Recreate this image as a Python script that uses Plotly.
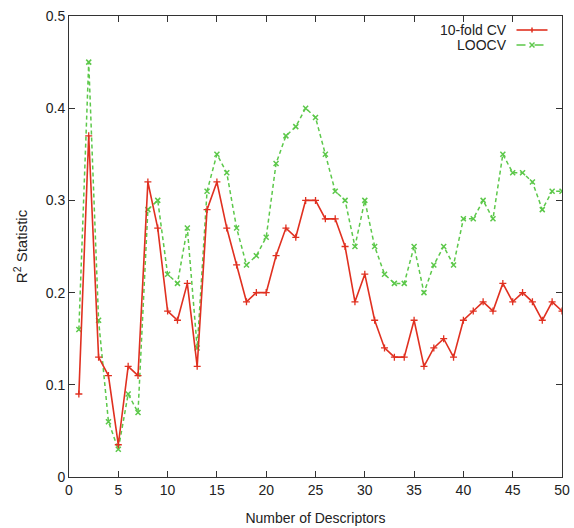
import plotly.graph_objects as go

x_vals = list(range(1, 51))
cv10 = [0.09, 0.37, 0.13, 0.11, 0.035, 0.12, 0.11, 0.32, 0.27, 0.18,
        0.17, 0.21, 0.12, 0.29, 0.32, 0.27, 0.23, 0.19, 0.20, 0.20,
        0.24, 0.27, 0.26, 0.30, 0.30, 0.28, 0.28, 0.25, 0.19, 0.22,
        0.17, 0.14, 0.13, 0.13, 0.17, 0.12, 0.14, 0.15, 0.13, 0.17,
        0.18, 0.19, 0.18, 0.21, 0.19, 0.20, 0.19, 0.17, 0.19, 0.18]
loocv = [0.16, 0.45, 0.17, 0.06, 0.03, 0.09, 0.07, 0.29, 0.30, 0.22,
         0.21, 0.27, 0.14, 0.31, 0.35, 0.33, 0.27, 0.23, 0.24, 0.26,
         0.34, 0.37, 0.38, 0.40, 0.39, 0.35, 0.31, 0.30, 0.25, 0.30,
         0.25, 0.22, 0.21, 0.21, 0.25, 0.20, 0.23, 0.25, 0.23, 0.28,
         0.28, 0.30, 0.28, 0.35, 0.33, 0.33, 0.32, 0.29, 0.31, 0.31]
series_names = ["10-fold CV", "LOOCV"]
x_ticks = [0, 5, 10, 15, 20, 25, 30, 35, 40, 45, 50]
y_ticks = [0, 0.1, 0.2, 0.3, 0.4, 0.5]

RED = "#e03020"
GREEN = "#5cc84a"
FONT = "Liberation Sans, Arial, sans-serif"

fig = go.Figure()
fig.add_trace(go.Scatter(x=x_vals, y=loocv, mode="lines+markers", name=series_names[1],
                         line=dict(color=GREEN, width=1.5, dash="4px,3px"),
                         marker=dict(symbol="x-thin", size=5, color=GREEN,
                                     line=dict(color=GREEN, width=1.5))))
fig.add_trace(go.Scatter(x=x_vals, y=cv10, mode="lines+markers", name=series_names[0],
                         line=dict(color=RED, width=1.6),
                         marker=dict(symbol="cross-thin", size=5, color=RED,
                                     line=dict(color=RED, width=1.3))))

axis_common = dict(showgrid=False, zeroline=False, showline=True, mirror="ticks",
                   linecolor="#333333", linewidth=1, ticks="inside", ticklen=6,
                   tickcolor="#333333", automargin=False,
                   tickfont=dict(family=FONT, size=14, color="#222222"))
fig.update_xaxes(range=[0, 50], tickvals=x_ticks, ticktext=[str(v) for v in x_ticks],
                 title=dict(text="Number of Descriptors", font=dict(family=FONT, size=14, color="#222222"),
                            standoff=16),
                 **axis_common)
fig.update_yaxes(range=[0, 0.5], tickvals=y_ticks, ticktext=["0", "0.1", "0.2", "0.3", "0.4", "0.5"],
                 title=dict(text="R<sup>2</sup> Statistic", font=dict(family=FONT, size=15, color="#222222"),
                            standoff=14),
                 **axis_common)

# gnuplot-style legend: text right-aligned, sample to the right
legend_rows = [(series_names[0], RED, "solid", 30), (series_names[1], GREEN, "dash", 45)]
W, H = 574, 528
L, R, T, B = 69, 12, 16, 51
pw, ph = W - L - R, H - T - B
def px2paper(px, py):
    return (px - L) / pw, 1 - (py - T) / ph
for name, col, dash, py in legend_rows:
    tx, ty = px2paper(509, py)
    fig.add_annotation(x=tx, y=ty, xref="paper", yref="paper", text=name, showarrow=False,
                       xanchor="right", yanchor="middle",
                       font=dict(family=FONT, size=14, color="#222222"))
    x0, y0 = px2paper(516.5, py)
    x1, _ = px2paper(547.5, py)
    fig.add_shape(type="line", xref="paper", yref="paper", x0=x0, x1=x1, y0=y0, y1=y0,
                  line=dict(color=col, width=1.6, dash="dash" if dash == "dash" else "solid"))
    mx, _ = px2paper(532, py)
    d = 2.5 / pw
    dy = 2.5 / ph
    if dash == "solid":
        fig.add_shape(type="line", xref="paper", yref="paper", x0=mx, x1=mx, y0=y0 - dy, y1=y0 + dy,
                      line=dict(color=col, width=1.5))
    else:
        fig.add_shape(type="line", xref="paper", yref="paper", x0=mx - d, x1=mx + d, y0=y0 - dy, y1=y0 + dy,
                      line=dict(color=col, width=1.5))
        fig.add_shape(type="line", xref="paper", yref="paper", x0=mx - d, x1=mx + d, y0=y0 + dy, y1=y0 - dy,
                      line=dict(color=col, width=1.5))

fig.update_layout(width=W, height=H, margin=dict(l=L, r=R, t=T, b=B),
                  plot_bgcolor="white", paper_bgcolor="white", showlegend=False,
                  font=dict(family=FONT, size=14, color="#222222"))
fig.write_html("out.html")
